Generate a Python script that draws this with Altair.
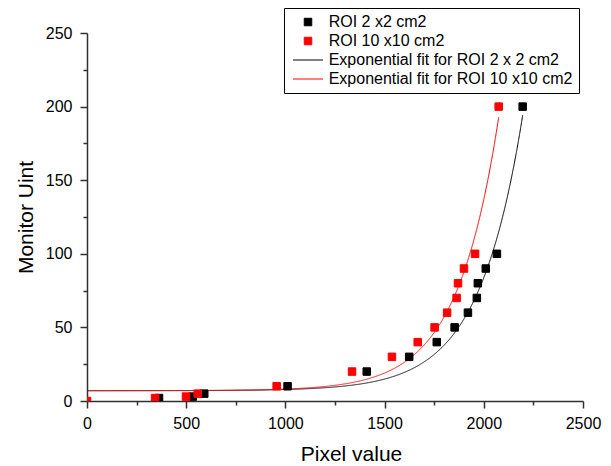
import altair as alt
import pandas as pd

# ---- data ----
series_names = [
    "ROI 2 x2 cm2",
    "ROI 10 x10 cm2",
    "Exponential fit for ROI 2 x 2 cm2",
    "Exponential fit for ROI 10 x10 cm2",
]
series_colors = ["#000000", "#ff0000", "#000000", "#ff0000"]

roi2_x = [363, 533, 591, 1011, 1410, 1624, 1763, 1853, 1920, 1965, 1970, 2010, 2066, 2196]
roi2_y = [2, 3, 5, 10, 20, 30, 40, 50, 60, 70, 80, 90, 100, 200]

roi10_x = [0, 343, 499, 558, 956, 1336, 1537, 1667, 1752, 1815, 1863, 1870, 1900, 1956, 2075]
roi10_y = [0, 2, 3, 5, 10, 20, 30, 40, 50, 60, 70, 80, 90, 100, 200]

# exponential fit y = y0 + A * exp(x / t), drawn from 0 to the last data x
fit_names = [series_names[2], series_names[3]]
fit_y0 = [7.0, 7.0]
fit_a = [0.00865, 0.0095]
fit_t = [220.0, 210.0]
fit_xmax = [2196, 2075]

x_ticks = list(range(0, 2501, 250))
y_ticks = list(range(0, 251, 25))

FONT = "Liberation Sans"
AXIS_COLOR = "#303030"

points_df = pd.DataFrame(
    {
        "x": roi2_x + roi10_x,
        "y": roi2_y + roi10_y,
        "series": [series_names[0]] * len(roi2_x) + [series_names[1]] * len(roi10_x),
    }
)
fit_df = pd.DataFrame(
    {"series": fit_names, "y0": fit_y0, "a": fit_a, "t": fit_t, "xmax": fit_xmax}
)

# symbol paths (scaled by sqrt(size)/2 = 5 px per unit)
sq = "M-0.75,-0.75H0.75V0.75H-0.75Z"
ln = "M-3,0H3"

color_scale = alt.Scale(domain=series_names, range=series_colors)
shape_scale = alt.Scale(domain=series_names, range=[sq, sq, ln, ln])

x_scale = alt.Scale(domain=[0, 2500], nice=False, zero=False)
y_scale = alt.Scale(domain=[0, 250], nice=False, zero=False)

x_axis = alt.Axis(
    values=x_ticks,
    format="d",
    labelExpr="datum.value % 500 === 0 ? datum.label : ''",
    tickSize={"condition": {"test": "datum.value % 500 === 0", "value": 7}, "value": 4},
    title="Pixel value",
    titleX=264,
    grid=False,
    labelFlush=False,
    labelOverlap=False,
    labelPadding=7,
    titlePadding=12,
)
y_axis = alt.Axis(
    values=y_ticks,
    format="d",
    labelExpr="datum.value % 50 === 0 ? datum.label : ''",
    tickSize={"condition": {"test": "datum.value % 50 === 0", "value": 7}, "value": 4},
    title="Monitor Uint",
    grid=False,
    labelFlush=False,
    labelOverlap=False,
    labelPadding=8,
    titlePadding=9,
)

legend = alt.Legend(
    orient="none",
    legendX=197,
    legendY=-25,
    title=None,
    strokeColor="#000000",
    fillColor="#ffffff",
    padding=6,
    rowPadding=3,
    labelFont=FONT,
    labelFontSize=16,
    labelColor="#000000",
    labelLimit=400,
    labelOffset=12.7,
    symbolSize=100,
    symbolOffset=10,
    symbolStrokeWidth=1,
)

fits = (
    alt.Chart(fit_df)
    .transform_calculate(px="sequence(0, datum.xmax + 1, 1)")
    .transform_flatten(["px"])
    .transform_calculate(py="datum.y0 + datum.a * exp(datum.px / datum.t)")
    .mark_line(strokeWidth=1, clip=True)
    .encode(
        x=alt.X("px:Q", scale=x_scale, axis=x_axis),
        y=alt.Y("py:Q", scale=y_scale, axis=y_axis),
        detail="series:N",
        stroke=alt.condition(
            alt.datum.series == fit_names[1],
            alt.value(series_colors[3]),
            alt.value(series_colors[2]),
        ),
        order=alt.Order("px:Q"),
    )
)

points = (
    alt.Chart(points_df)
    .mark_point(filled=True, size=100, strokeWidth=1, opacity=1, clip=True)
    .encode(
        x=alt.X("x:Q", scale=x_scale, axis=x_axis),
        y=alt.Y("y:Q", scale=y_scale, axis=y_axis),
        fill=alt.Fill("series:N", scale=color_scale, legend=legend),
        stroke=alt.Stroke("series:N", scale=color_scale, legend=legend),
        shape=alt.Shape("series:N", scale=shape_scale, legend=legend),
    )
)

chart = (
    alt.layer(fits, points)
    .properties(
        width=496,
        height=368,
        autosize=alt.AutoSizeParams(type="none"),
        padding={"left": 79, "top": 25, "right": 20, "bottom": 64},
    )
    .configure_view(stroke="transparent")
    .configure_axis(
        labelFont=FONT,
        labelFontSize=16,
        labelColor="#000000",
        titleFont=FONT,
        titleFontSize=21,
        titleFontWeight="normal",
        titleColor="#000000",
        domainColor=AXIS_COLOR,
        domainWidth=1.5,
        tickColor=AXIS_COLOR,
        tickWidth=1.5,
    )
)

chart.save("out.html", embed_options={"renderer": "svg", "actions": False})
